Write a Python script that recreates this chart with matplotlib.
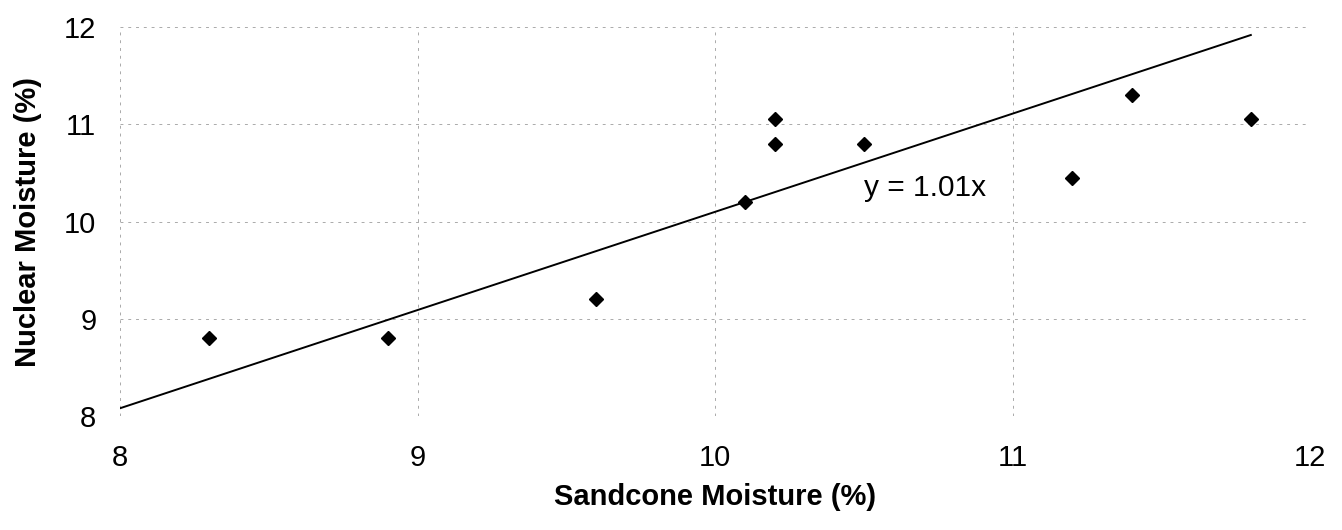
import numpy as np
import matplotlib
matplotlib.use("Agg")
import matplotlib.pyplot as plt

plt.rcParams['font.family'] = ['Liberation Sans', 'DejaVu Sans']

# sandcone vs nuclear gauge moisture readings (%)
sandcone = [8.3, 8.9, 9.6, 10.1, 10.2, 10.2, 10.5, 11.2, 11.4, 11.8]
nuclear = [8.8, 8.8, 9.2, 10.2, 10.8, 11.05, 10.8, 10.45, 11.3, 11.05]
slope = 1.01
ticks = [8, 9, 10, 11, 12]

fig = plt.figure(figsize=(13.42, 5.30), dpi=100)
ax = fig.add_axes([0.0894, 0.215, 0.887, 0.734])

# trend line through origin, drawn over the data range
xl = np.array([8.0, max(sandcone)])
ax.plot(xl, slope * xl, color='black', lw=1.4, zorder=2)

ax.plot(sandcone, nuclear, linestyle='none', marker='D', ms=7.5,
        color='black', zorder=3)

ax.text(10.5, 10.35, 'y = 1.01x', fontsize=21.5, va='center', ha='left',
        bbox=dict(facecolor='white', edgecolor='none', pad=1), zorder=4)

ax.set_xlim(8, 12)
ax.set_ylim(8, 12)
ax.set_xticks(ticks)
ax.set_yticks(ticks)
ax.tick_params(length=0, labelsize=21)
ax.tick_params(axis='y', pad=17)
ax.tick_params(axis='x', pad=20)

ax.grid(True, color='#aaaaaa', lw=0.7, linestyle=(0, (3, 5)))
for s in ax.spines.values():
    s.set_visible(False)

ax.set_xlabel('Sandcone Moisture (%)', fontsize=21, fontweight='bold', va='center')
ax.set_ylabel('Nuclear Moisture (%)', fontsize=21, fontweight='bold', va='center')
ax.xaxis.set_label_coords(0.5, -0.208)
ax.yaxis.set_label_coords(-0.077, 0.5)

fig.savefig('out.png', dpi=100)
